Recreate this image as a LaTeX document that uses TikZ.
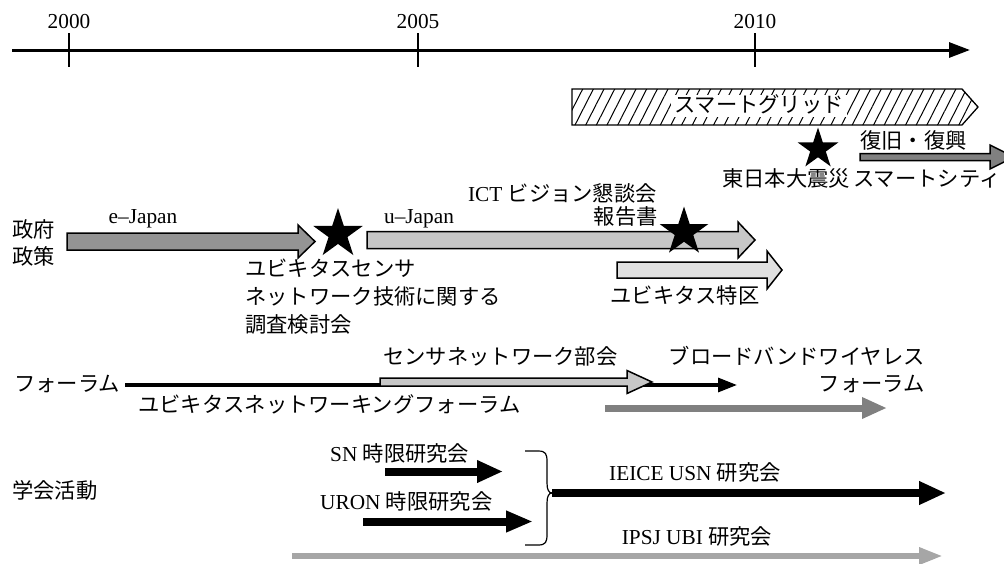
\documentclass[tikz,border=0pt]{standalone}
\usepackage{fontspec}
\setmainfont{Liberation Serif}
\newfontfamily\jp{Noto Sans CJK JP}
\newcommand\J[1]{{\jp #1}}
\usetikzlibrary{shapes.geometric,arrows.meta,patterns.meta}
\newcommand\fatarrow[7]{%
  \draw[#1] (#2,#4-#5) -- (#3-#7,#4-#5) -- (#3-#7,#4-#6) -- (#3,#4) -- (#3-#7,#4+#6) -- (#3-#7,#4+#5) -- (#2,#4+#5) -- cycle;}
\begin{document}
\begin{tikzpicture}[x=1pt,y=-1pt,
  every node/.style={font=\fontsize{21.3}{28}\selectfont},
  lbl/.style={inner sep=0pt, text height=16pt, text depth=4pt},
  bigstar/.style={star, star points=5, star point ratio=2.618, fill=black, draw=none, inner sep=0pt},
  fat/.style={draw=black, line width=1.5pt, line join=miter}]
\useasboundingbox (0,0) rectangle (1004,563);
\clip (0,0) rectangle (1004,563);

% time axis
\coordinate (ax0) at (12,50);
\coordinate (ax1) at (970,50);
\draw[line width=3pt, -{Triangle[length=21pt,width=15pt]}] (ax0) -- (ax1);
\foreach \x/\y in {69/2000,418/2005,755/2010}{
  \draw[line width=1.2pt] (\x,33) -- (\x,67);
  \node[lbl] (y\y) at (\x,22) {\y};
}

% smart grid
\draw[line width=1.3pt, pattern={Lines[angle=63,distance=9.5pt,line width=1pt]}]
  (572,89) -- (962,89) -- (978,107) -- (962,125) -- (572,125) -- cycle;
\node[lbl, fill=white, inner xsep=3pt, inner ysep=1pt] (sg) at (759,106) {\J{スマートグリッド}};

% earthquake
\node[bigstar, minimum size=43pt] (s3) at (818,149) {};
\node[lbl] (eq) at (786,180) {\J{東日本大震災}};
\node[lbl, anchor=west] (fk) at (860,142) {\J{復旧・復興}};
\fatarrow{fat, fill=black!50}{860}{1014}{157}{3.5}{12}{24}
\node[lbl, anchor=west] (sc) at (853,180) {\J{スマートシティ}};

% government policy
\node[lbl, anchor=west] (g1) at (12,231) {\J{政府}};
\node[lbl, anchor=west] (g2) at (12,258) {\J{政策}};
\fatarrow{fat, fill=black!42}{67}{315}{241.5}{8.5}{16.5}{17}
\node[lbl] (ej) at (143,217) {e–Japan};
\fatarrow{fat, fill=black!22}{367}{755}{240}{8.5}{18}{17}
\node[lbl] (uj) at (419,217) {u–Japan};
\fatarrow{fat, fill=black!12}{617}{782}{270}{8}{19}{15}
\node[lbl] (tk) at (685,297) {\J{ユビキタス特区}};
\node[bigstar, minimum size=52pt] (s1) at (338,234) {};
\node[bigstar, minimum size=51pt] (s2) at (684,232) {};
\node[lbl, anchor=east] (ict) at (657,195) {ICT \J{ビジョン懇談会}};
\node[lbl, anchor=east] (hk) at (658,218) {\J{報告書}};
\node[lbl, anchor=west] (us1) at (245,270) {\J{ユビキタスセンサ}};
\node[lbl, anchor=west] (us2) at (245,298) {\J{ネットワーク技術に関する}};
\node[lbl, anchor=west] (us3) at (245,326) {\J{調査検討会}};

% forum
\node[lbl, anchor=west] (fr) at (14,385) {\J{フォーラム}};
\coordinate (f0) at (125,385);
\coordinate (f1) at (737,385);
\draw[line width=3.2pt, -{Triangle[length=19pt,width=14pt]}] (f0) -- (f1);
\fatarrow{fat, fill=black!22}{380}{652}{382}{4}{11.5}{25}
\node[lbl, anchor=west] (snb) at (383,358) {\J{センサネットワーク部会}};
\node[lbl, anchor=east] (bw1) at (925,358) {\J{ブロードバンドワイヤレス}};
\node[lbl, anchor=east] (bw2) at (925,385) {\J{フォーラム}};
\node[lbl, anchor=west] (unf) at (138,406) {\J{ユビキタスネットワーキングフォーラム}};
\coordinate (b0) at (605,408);
\coordinate (b1) at (887,408);
\draw[black!50, line width=7pt, -{Triangle[length=25pt,width=20pt]}] (b0) -- (b1);

% academic
\node[lbl, anchor=west] (ac) at (12,492) {\J{学会活動}};
\node[lbl, anchor=west] (sn) at (330,455) {SN \J{時限研究会}};
\node[lbl, anchor=west] (ur) at (320,503) {URON \J{時限研究会}};
\coordinate (sn0) at (385,471.5);
\coordinate (sn1) at (503,471.5);
\draw[line width=8pt, -{Triangle[length=26pt,width=21pt]}] (sn0) -- (sn1);
\coordinate (ur0) at (363,521.5);
\coordinate (ur1) at (533,521.5);
\draw[line width=8pt, -{Triangle[length=27pt,width=20pt]}] (ur0) -- (ur1);
\coordinate (br) at (552,493);
\draw[line width=1.2pt] (525,451) -- (538,451) .. controls (546,451) and (547,454) .. (547,462) -- (547,483) .. controls (547,490) and (549,493) .. (br);
\draw[line width=1.2pt] (525,545) -- (538,545) .. controls (546,545) and (547,542) .. (547,534) -- (547,503) .. controls (547,496) and (549,493) .. (br);
\coordinate (ie1) at (946,493);
\draw[line width=7.5pt, -{Triangle[length=27pt,width=22pt]}] (br) -- (ie1);
\node[lbl] (ie) at (695,474) {IEICE USN \J{研究会}};
\coordinate (ip0) at (292,556);
\coordinate (ip1) at (943,556);
\draw[black!35, line width=6pt, -{Triangle[length=24pt,width=16pt]}] (ip0) -- (ip1);
\node[lbl] (ip) at (697,538) {IPSJ UBI \J{研究会}};
\end{tikzpicture}
\end{document}
